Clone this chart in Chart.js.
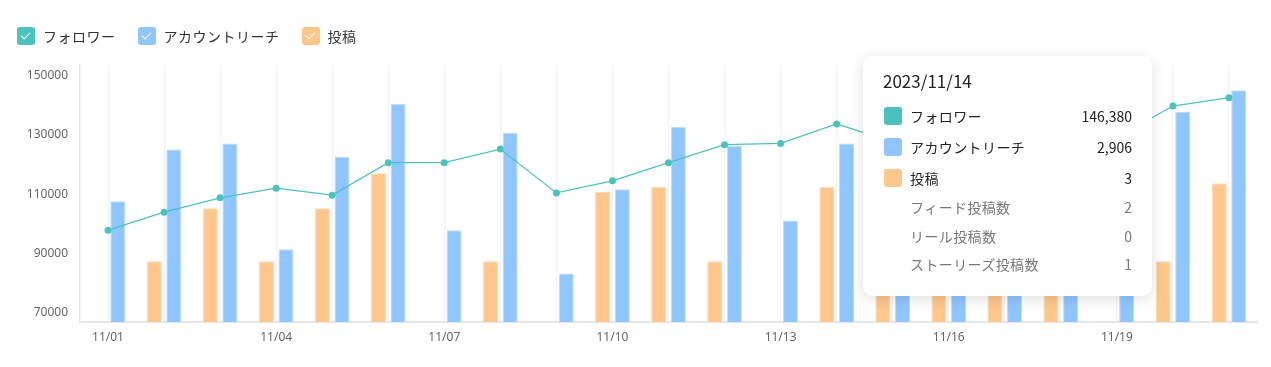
<!DOCTYPE html>
<html lang="ja">
<head>
<meta charset="utf-8">
<script src="https://cdn.jsdelivr.net/npm/chart.js@4.4.0/dist/chart.umd.min.js"></script>
<style>
  html, body { margin: 0; padding: 0; background: #fff; }
  body { width: 1271px; height: 367px; position: relative; overflow: hidden;
         font-family: "Noto Sans CJK JP", "Noto Sans", sans-serif; }
  #wrap { position: absolute; left: 0; top: 0; width: 1271px; height: 367px; }
  #legend { position: absolute; left: 17px; top: 26px; display: flex; align-items: center; z-index: 2; }
  .item { display: flex; align-items: center; margin-right: 22px; font-size: 14px; color: #333; letter-spacing: 0.5px; }
  .box { width: 18px; height: 18px; border-radius: 3px; margin-right: 8px; position: relative; }
  .box::after { content: ""; position: absolute; left: 6px; top: 3px; width: 4px; height: 8px;
                border: solid #fff; border-width: 0 1.8px 1.8px 0; transform: rotate(45deg); }
  #tip { position: absolute; width: 249px; background: #fff; border-radius: 10px;
         box-shadow: 0 3px 14px rgba(0,0,0,0.13); padding: 13px 20px 17px 20px; z-index: 3; }
  #tip .title { font-size: 17px; color: #222; line-height: 24px; margin-bottom: 7px; }
  #tip .row { display: flex; align-items: center; height: 31px; font-size: 14px; color: #222; }
  #tip .sw { width: 18px; height: 18px; border-radius: 3px; margin: 0 8px 0 1px; }
  #tip .sub { display: flex; align-items: center; height: 28.5px; font-size: 14px; color: #777; padding-left: 27px; }
  #tip .lab { flex: 1; letter-spacing: 0.4px; }
</style>
</head>
<body>
<div id="wrap"><canvas id="chartCanvas"></canvas></div>
<div id="legend"></div>
<div id="tip"></div>
<script>
const labels = ['11/01','11/02','11/03','11/04','11/05','11/06','11/07','11/08','11/09','11/10','11/11',
                '11/12','11/13','11/14','11/15','11/16','11/17','11/18','11/19','11/20','11/21'];
const followers = [97800, 103900, 108750, 112000, 109650, 120600, 120600, 125200, 110400, 114500, 120600,
                   126700, 127100, 133700, 127600, 130200, 132400, 128800, 129200, 139750, 142550];
const reach = [107600, 125100, 127100, 91400, 122600, 140500, 97800, 130700, 83200, 111600, 132750,
               126300, 101100, 127100, 118500, 123000, 109000, 116000, 121500, 137700, 145050];
const posts = [null, 87300, 105200, 87300, 105200, 117000, null, 87300, null, 110800, 112400,
               87300, null, 112400, 105200, 87300, 110800, 105200, null, 87300, 113700];
const yTicks = [70000, 90000, 110000, 130000, 150000];

const seriesNames = ['フォロワー', 'アカウントリーチ', '投稿'];
const seriesColors = ['#4cc2be', '#90c6ff', '#ffc78c'];

// tooltip contents for the hovered day
const tipIndex = 13;
const tipTitle = '2023/11/14';
const tipValues = ['146,380', '2,906', '3'];
const subNames = ['フィード投稿数', 'リール投稿数', 'ストーリーズ投稿数'];
const subValues = ['2', '0', '1'];

const legend = document.getElementById('legend');
seriesNames.forEach((name, i) => {
    const item = document.createElement('div');
    item.className = 'item';
    item.innerHTML = '<span class="box" style="background:' + seriesColors[i] + '"></span>' + name;
    legend.appendChild(item);
});

const canvas = document.getElementById('chartCanvas');
const c = canvas.getContext('2d');

const data = {
    labels: labels,
    datasets: [
        {
            type: 'line',
            label: seriesNames[0],
            data: followers,
            borderColor: seriesColors[0],
            backgroundColor: seriesColors[0],
            borderWidth: 1.3,
            pointRadius: 3.5,
            pointBorderWidth: 0,
            pointBackgroundColor: seriesColors[0],
            tension: 0,
            order: 0
        },
        {
            type: 'bar',
            label: seriesNames[2],
            data: posts,
            backgroundColor: seriesColors[2],
            borderColor: '#ffdcb6',
            borderWidth: 1,
            categoryPercentage: 0.7,
            barPercentage: 0.77,
            order: 1
        },
        {
            type: 'bar',
            label: seriesNames[1],
            data: reach,
            backgroundColor: seriesColors[1],
            borderColor: '#bcdcff',
            borderWidth: 1,
            categoryPercentage: 0.7,
            barPercentage: 0.77,
            order: 1
        }
    ]
};

const tickFont = { family: '"Noto Sans", "Noto Sans CJK JP", sans-serif', size: 12 };

const options = {
    responsive: true,
    maintainAspectRatio: false,
    animation: false,
    layout: { padding: { top: 65, right: 14, left: 0, bottom: 0 } },
    plugins: { legend: { display: false }, tooltip: { enabled: false } },
    scales: {
        x: {
            grid: { display: true, color: '#f1f1f1', offset: false, drawTicks: false },
            border: { display: true, color: '#e6e6e6', width: 2 },
            ticks: {
                autoSkip: false, maxRotation: 0, padding: 8, color: '#666', font: tickFont,
                callback: (v, i) => (i % 3 === 0 ? labels[i] : '')
            },
            afterFit: (axis) => { axis.height = 45; }
        },
        y: {
            min: 66800,
            max: 153600,
            grid: { display: false, drawTicks: false },
            border: { display: true, color: '#e6e6e6', width: 1.5 },
            ticks: { padding: 12, color: '#666', font: tickFont, callback: (v) => String(v) },
            afterBuildTicks: (axis) => { axis.ticks = yTicks.map(v => ({ value: v })); },
            afterFit: (axis) => { axis.width = 80; }
        }
    }
};

const chart = new Chart(c, { data: data, options: options });

// tooltip box next to the hovered day
const tip = document.getElementById('tip');
let html = '<div class="title">' + tipTitle + '</div>';
seriesNames.forEach((name, i) => {
    html += '<div class="row"><span class="sw" style="background:' + seriesColors[i] + '"></span>' +
            '<span class="lab">' + name + '</span><span>' + tipValues[i] + '</span></div>';
});
subNames.forEach((name, i) => {
    html += '<div class="sub"><span class="lab">' + name + '</span><span>' + subValues[i] + '</span></div>';
});
tip.innerHTML = html;
const tx = chart.scales.x.getPixelForValue(tipIndex);
tip.style.left = Math.round(tx + 26) + 'px';
tip.style.top = Math.round(chart.chartArea.top - 9) + 'px';
</script>
</body>
</html>
